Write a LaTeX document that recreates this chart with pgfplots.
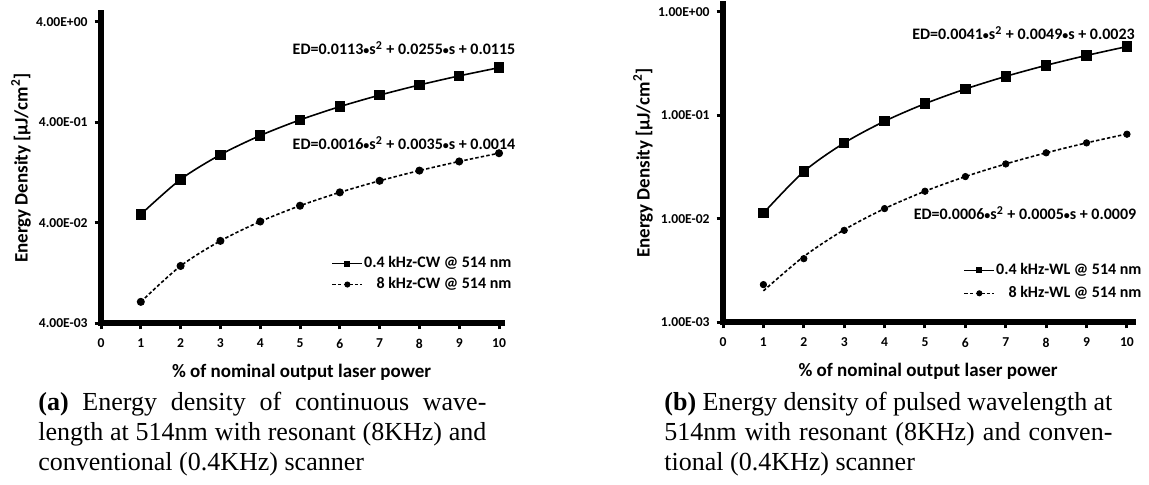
\documentclass[border=0pt]{standalone}
\usepackage{fontspec}
\setmainfont{Carlito}
\newfontfamily\capfont{Liberation Serif}
\usepackage{pgfplots}
\pgfplotsset{compat=1.18}

\newcommand{\bul}{\raisebox{0.2pt}{\scalebox{0.75}{•}}}

\tikzset{
  sqline/.style={black, line width=0.8pt, smooth, mark=square*, mark size=2.2pt, mark options={solid}},
  dotline/.style={black, line width=0.8pt, smooth, dash pattern=on 1.7pt off 1.1pt, mark=*, mark size=1.6pt, mark options={solid}},
}
\pgfplotsset{
  legend image code/.code={
    \draw[mark repeat=2, mark phase=2, #1, mark size=1.1pt]
      plot coordinates {(0pt,0pt) (7.5pt,0pt) (15pt,0pt)};},
  every axis/.append style={
    scale only axis, clip=false,
    xmin=0, xtick={0,...,10},
    axis lines*=left,
    axis line style={line width=3.3pt, line cap=rect, -},
    tick align=outside, major tick length=3.2pt,
    tick style={line width=1.5pt, black},
    /pgf/number format/assume math mode=true,
    ticklabel style={font=\bfseries\fontsize{6.8}{8}\selectfont},
    xticklabel style={yshift=-1.3pt},
    label style={font=\bfseries\fontsize{9.5}{11}\selectfont},
    xlabel style={at={([yshift=-24.5pt]axis description cs:0.5,0)}, anchor=center},
    ylabel style={at={([xshift=-40pt]axis description cs:0,0.5)}, anchor=center},
    legend cell align=right,
    legend style={draw=none, fill=none, inner sep=0pt, anchor=north east,
      font=\bfseries\fontsize{8}{9}\selectfont,
      nodes={inner sep=0.5pt, text height=5.5pt, text depth=1.5pt}},
  },
}

\begin{document}
\begin{tikzpicture}
\useasboundingbox (0,0) rectangle (574.5pt,242pt);

% (a) continuous wavelength
\begin{axis}[
    ymode=log, yminorticks=false,
    at={(50.5pt,80.5pt)}, anchor=south west,
    width=200.5pt, height=155pt,
    xmax=10.075, ymin=0.004, ymax=4.89,
    ytick={0.004,0.04,0.4,4},
    yticklabels={4.00E-03,4.00E-02,4.00E-01,4.00E+00},
    xlabel={\% of nominal output laser power},
    ylabel={Energy Density [µJ/cm\textsuperscript{2}]},
    legend style={at={(1.027,0.219)}, row sep=2.5pt},
]
\addplot[sqline] coordinates {
  (1,0.0483) (2,0.1077) (3,0.1897) (4,0.2943) (5,0.4215)
  (6,0.5713) (7,0.7437) (8,0.9387) (9,1.1563) (10,1.3965)
};
\addlegendentry{0.4 kHz-CW @ 514 nm}
\addplot[dotline] coordinates {
  (1,0.0065) (2,0.0148) (3,0.0263) (4,0.0410) (5,0.0589)
  (6,0.0800) (7,0.1043) (8,0.1318) (9,0.1625) (10,0.1964)
};
\addlegendentry{8 kHz-CW @ 514 nm}
\end{axis}

% (b) pulsed wavelength
\begin{axis}[
    ymode=log, yminorticks=false,
    at={(361.5pt,81pt)}, anchor=south west,
    width=205pt, height=159pt,
    xmax=10.15, ymin=0.001, ymax=1.19,
    ytick={0.001,0.01,0.1,1},
    yticklabels={1.00E-03,1.00E-02,1.00E-01,1.00E+00},
    xlabel={\% of nominal output laser power},
    ylabel={Energy Density [µJ/cm\textsuperscript{2}]},
    legend style={at={(1.024,0.189)}, row sep=3.5pt},
]
\addplot[sqline] coordinates {
  (1,0.0113) (2,0.0285) (3,0.0539) (4,0.0875) (5,0.1293)
  (6,0.1793) (7,0.2375) (8,0.3039) (9,0.3785) (10,0.4613)
};
\addlegendentry{0.4 kHz-WL @ 514 nm}
% trend line of the 8 kHz series
\addplot[dotline, no marks, forget plot] coordinates {
  (1,0.0020) (2,0.0043) (3,0.0078) (4,0.0125) (5,0.0184)
  (6,0.0255) (7,0.0338) (8,0.0433) (9,0.0540) (10,0.0659)
};
\addplot[only marks, black, mark=*, mark size=1.6pt, forget plot] coordinates {
  (1,0.0023) (2,0.0041) (3,0.0077) (4,0.0125) (5,0.0184)
  (6,0.0255) (7,0.0338) (8,0.0433) (9,0.0540) (10,0.0655)
};
\addlegendimage{dotline}
\addlegendentry{8 kHz-WL @ 514 nm}
\end{axis}

% fitted equations
\begin{scope}[every node/.style={font=\bfseries\fontsize{8}{9}\selectfont, inner sep=0pt}]
\node at (202pt,218pt) {ED=0.0113\bul s\textsuperscript{2} + 0.0255\bul s + 0.0115};
\node at (202pt,170.5pt) {ED=0.0016\bul s\textsuperscript{2} + 0.0035\bul s + 0.0014};
\node at (511.75pt,225.5pt) {ED=0.0041\bul s\textsuperscript{2} + 0.0049\bul s + 0.0023};
\node at (512.5pt,135.5pt) {ED=0.0006\bul s\textsuperscript{2} + 0.0005\bul s + 0.0009};
\end{scope}

% sub-captions
\begin{scope}[every node/.style={font=\capfont\fontsize{13}{15}\selectfont, inner sep=0pt, anchor=base west}]
\node at (19pt,37pt) {\makebox[224pt][s]{\textbf{(a)} Energy density of continuous wave-}};
\node at (19pt,22pt) {\makebox[224pt][s]{length at 514nm with resonant (8KHz) and}};
\node at (19pt,7pt) {conventional (0.4KHz) scanner};
\node at (332pt,37pt) {\makebox[224pt][s]{\textbf{(b)} Energy density of pulsed wavelength at}};
\node at (332pt,22pt) {\makebox[224pt][s]{514nm with resonant (8KHz) and conven-}};
\node at (332pt,7pt) {tional (0.4KHz) scanner};
\end{scope}
\end{tikzpicture}
\end{document}
